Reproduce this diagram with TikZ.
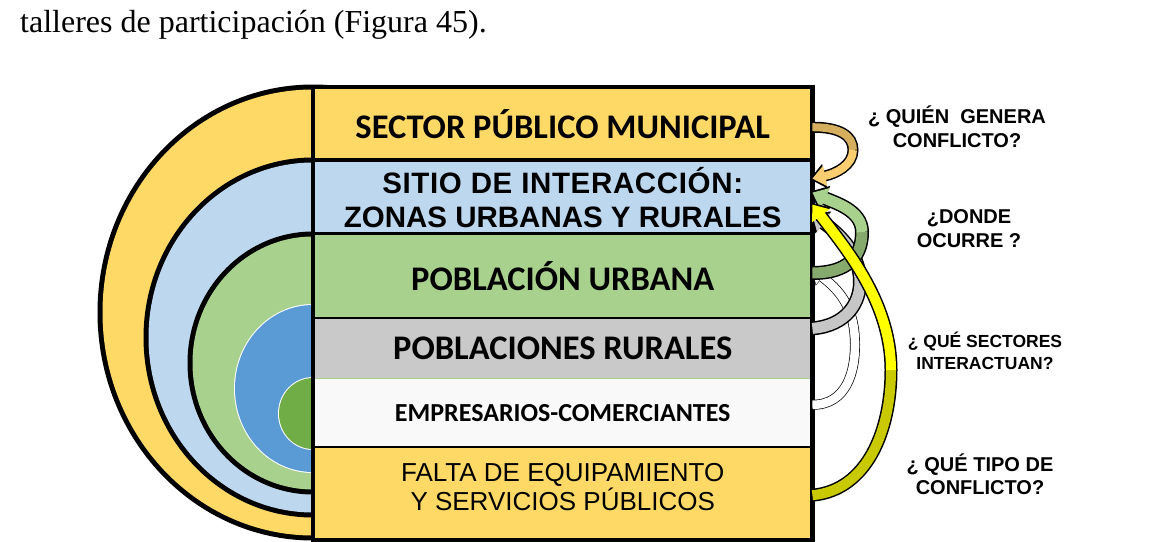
\documentclass[tikz,border=0pt]{standalone}
\usepackage{fontspec}
\setmainfont{Liberation Serif}
\newfontfamily\arialfont{Liberation Sans}
\newfontfamily\calibrifont{Carlito}
\usetikzlibrary{positioning,arrows.meta}
\definecolor{rowyellow}{HTML}{FFD966}
\definecolor{rowblue}{HTML}{BDD7EE}
\definecolor{rowgreen}{HTML}{A9D18E}
\definecolor{rowgray}{HTML}{C9C9C9}
\definecolor{rowwhite}{HTML}{F9F9F9}
\definecolor{coreblue}{HTML}{5B9BD5}
\definecolor{coregreen}{HTML}{70AD47}
\definecolor{golddark}{HTML}{D6AF5E}
\definecolor{goldlight}{HTML}{FACD70}
\definecolor{leafdark}{HTML}{86A96D}
\definecolor{arrowgray}{HTML}{C6C6C6}
\definecolor{brightyellow}{HTML}{FFFF00}
\definecolor{arrowolive}{HTML}{C9C900}

\begin{document}
\begin{tikzpicture}[x=1pt, y=-1pt,
    row/.style={rectangle, inner sep=0pt, minimum width=499pt, align=center},
    sepline/.style={draw=black, line width=#1},
    rim/.style={draw=black, line width=#1},
    question/.style={align=center, font=\arialfont\bfseries\fontsize{20}{24}\selectfont}
  ]
  \useasboundingbox (0,0) rectangle (1175,541);

  \node[anchor=base west, inner sep=0pt, font=\fontsize{32}{36}\selectfont] (caption) at (20,32)
    {talleres de participación (Figura 45).};

  % half rings on the left (black rim, then colour)
  \fill[black]     (313,312.5) ellipse [x radius=215.5pt, y radius=228pt];
  \fill[rowyellow] (313,312.5) ellipse [x radius=210.5pt, y radius=223pt];
  \fill[black]     (313,337.5) ellipse [x radius=169.5pt, y radius=180pt];
  \fill[rowblue]   (313,337.5) ellipse [x radius=164.5pt, y radius=175pt];
  \fill[black]     (313,363)   ellipse [x radius=125.5pt, y radius=131.5pt];
  \fill[rowgreen]  (313,363)   ellipse [x radius=120.5pt, y radius=126.5pt];
  \fill[white]     (313,388.5) ellipse [x radius=79pt, y radius=84.5pt];
  \fill[coreblue]  (313,388.5) ellipse [x radius=78pt, y radius=83.5pt];
  \fill[white]     (313,413.5) ellipse [x radius=35pt, y radius=36.5pt];
  \fill[coregreen] (313,413.5) ellipse [x radius=34pt, y radius=35.5pt];

  % rows
  \node[row, fill=rowyellow, minimum height=73pt, anchor=north west,
        font=\calibrifont\bfseries\fontsize{34.5}{40}\selectfont] (sector) at (313,87) {SECTOR PÚBLICO MUNICIPAL};
  \node[row, fill=rowblue, minimum height=73pt, below=0pt of sector,
        font=\arialfont\bfseries\fontsize{29.5}{34}\selectfont] (sitio)
        {{\addfontfeature{LetterSpace=2.2}SITIO DE INTERACCIÓN:}\\ZONAS URBANAS Y RURALES};
  \node[row, fill=rowgreen, minimum height=84pt, below=0pt of sitio,
        font=\calibrifont\bfseries\fontsize{34.5}{40}\selectfont] (urbana) {POBLACIÓN URBANA};
  \node[row, fill=rowgray, minimum height=60pt, below=0pt of urbana,
        font=\calibrifont\bfseries\fontsize{34.5}{40}\selectfont] (rurales) {POBLACIONES RURALES};
  \node[row, fill=rowwhite, minimum height=68pt, below=0pt of rurales,
        font=\calibrifont\bfseries\fontsize{26}{30}\selectfont] (empresarios) {EMPRESARIOS-COMERCIANTES};
  \node[row, fill=rowyellow, minimum height=93pt, below=0pt of empresarios, text depth=14pt,
        font=\arialfont\fontsize{26}{25}\selectfont] (falta) {FALTA DE EQUIPAMIENTO\\Y SERVICIOS PÚBLICOS};

  \draw[sepline=4pt] (sector.south west) -- (sector.south east);
  \draw[sepline=3pt] (sitio.south west) -- (sitio.south east);
  \draw[sepline=2pt] (urbana.south west) -- (urbana.south east);
  \draw[rowgreen, line width=1pt] (rurales.south west) -- (rurales.south east);
  \draw[sepline=2.5pt] (empresarios.south west) -- (empresarios.south east);
  \draw[line width=4.5pt] (sector.north west) rectangle (falta.south east);

  % curved arrows
  \draw[rim=10pt, shorten >=-1pt, -{Triangle[length=14pt, width=21pt]}]
    ([yshift=8pt]empresarios.east) .. controls +(35,0) and +(0,25) .. (855,345)
    .. controls +(0,-40) and +(25,20) .. ([yshift=7pt]urbana.east);
  \draw[white, line width=8.6pt, -{Triangle[length=12.5pt, width=19pt]}]
    ([yshift=8pt]empresarios.east) .. controls +(35,0) and +(0,25) .. (855,345)
    .. controls +(0,-40) and +(25,20) .. ([yshift=7pt]urbana.east);

  \draw[rim=14pt, shorten >=-2.5pt, -{Triangle[length=16pt, width=26pt]}]
    ([yshift=20pt]rurales.east) .. controls +(35,-3) and +(0,20) .. (860,282)
    .. controls +(0,-30) and +(25,18) .. ([yshift=-17.5pt]sitio.east);
  \draw[arrowgray, line width=11pt, -{Triangle[length=14pt, width=22pt]}]
    ([yshift=20pt]rurales.east) .. controls +(35,-3) and +(0,20) .. (860,282)
    .. controls +(0,-30) and +(25,18) .. ([yshift=-17.5pt]sitio.east);

  \draw[rim=14pt, shorten >=-2.5pt, -{Triangle[length=16pt, width=26pt]}]
    ([yshift=3pt]urbana.east) .. controls +(35,0) and +(0,25) .. (862,232)
    .. controls +(0,-22) and +(22,10) .. ([yshift=4.5pt]sitio.east);
  \draw[leafdark, line width=11pt]
    ([yshift=3pt]urbana.east) .. controls +(35,0) and +(0,25) .. (862,232);
  \draw[rowgreen, line width=11pt, -{Triangle[length=14pt, width=22pt]}]
    (862,232) .. controls +(0,-22) and +(22,10) .. ([yshift=4.5pt]sitio.east);

  \draw[rim=13pt, shorten >=-2.5pt, -{Triangle[length=16pt, width=25pt]}]
    ([yshift=-1.5pt]falta.east) .. controls +(55,-5) and +(0,60) .. (891,370)
    .. controls +(0,-70) and +(30,40) .. ([yshift=-7.5pt]sitio.east);
  \draw[arrowolive, line width=10pt]
    ([yshift=-1.5pt]falta.east) .. controls +(55,-5) and +(0,60) .. (891,370);
  \draw[brightyellow, line width=10pt, -{Triangle[length=14pt, width=21pt]}]
    (891,370) .. controls +(0,-70) and +(30,40) .. ([yshift=-7.5pt]sitio.east);

  \draw[rim=11pt, shorten >=-2.5pt, -{Triangle[length=15pt, width=24pt]}]
    ([yshift=-3.5pt]sector.east) .. controls +(28,0) and +(0,-14) .. (853,150)
    .. controls +(0,15) and +(24,-5) .. ([yshift=18.5pt]sitio.east);
  \draw[golddark, line width=8pt]
    ([yshift=-3.5pt]sector.east) .. controls +(28,0) and +(0,-14) .. (853,150);
  \draw[goldlight, line width=8pt, -{Triangle[length=13pt, width=20pt]}]
    (853,150) .. controls +(0,15) and +(24,-5) .. ([yshift=18.5pt]sitio.east);

  % questions
  \node[question] (qwho) at (957,127) {¿ QUIÉN\ \ GENERA\\CONFLICTO?};
  \node[question] (qwhere) at (969,229) {¿DONDE\\OCURRE ?};
  \node[question, font=\arialfont\bfseries\fontsize{17.5}{22}\selectfont] (qsectors) at (985,351)
    {¿ QUÉ SECTORES\\INTERACTUAN?};
  \node[question, font=\arialfont\bfseries\fontsize{20}{23}\selectfont] (qtype) at (980,474.5)
    {¿ QUÉ TIPO DE\\CONFLICTO?};
\end{tikzpicture}
\end{document}
